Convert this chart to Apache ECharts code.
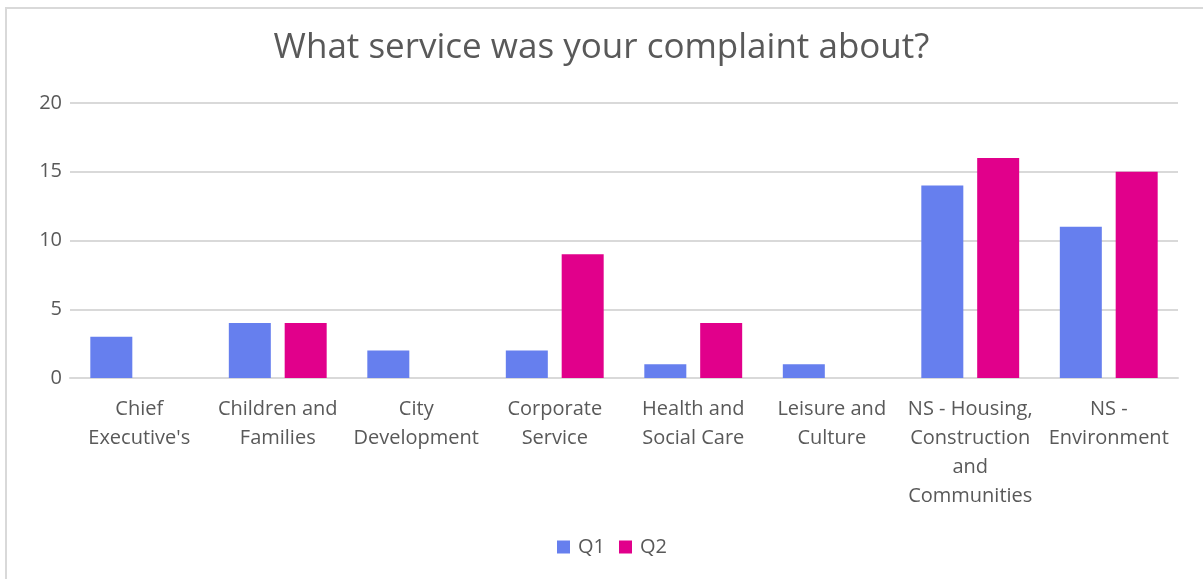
<!DOCTYPE html>
<html><head><meta charset="utf-8">
<script src="https://cdn.jsdelivr.net/npm/echarts@6/dist/echarts.min.js"></script>
<style>html,body{margin:0;padding:0;background:#fff}#c{width:1203px;height:579px}</style>
</head><body><div id="c"></div>
<script>
const categories = ["Chief\nExecutive's", "Children and\nFamilies", "City\nDevelopment", "Corporate\nService", "Health and\nSocial Care", "Leisure and\nCulture", "NS - Housing,\nConstruction\nand\nCommunities", "NS -\nEnvironment"];
const q1 = [3, 4, 2, 2, 1, 1, 14, 11];
const q2 = [0, 4, 0, 9, 4, 0, 16, 15];
const seriesNames = ["Q1", "Q2"];
const FONT = "Open Sans";
const chart = echarts.init(document.getElementById('c'));
chart.setOption({
  animation: false,
  textStyle: {fontFamily: FONT},
  title: {text: "What service was your complaint about?", left: 'center', top: 26,
    textStyle: {fontFamily: FONT, fontSize: 35, fontWeight: 'normal', color: '#595959'}},
  graphic: [{type: 'rect', shape: {x: 6, y: 8, width: 1220, height: 620}, style: {fill: 'none', stroke: '#d9d9d9', lineWidth: 2}, silent: true}],
  legend: {data: seriesNames, bottom: 17, left: 552, itemWidth: 13, itemHeight: 13, itemGap: 14, icon: 'rect',
    textStyle: {fontFamily: FONT, fontSize: 20, color: '#595959', padding: [0,0,0,3]}},
  grid: {left: 70, right: 25, top: 103, bottom: 201, containLabel: false},
  xAxis: {type: 'category', data: categories,
    axisLine: {lineStyle: {color: '#d9d9d9', width: 2}}, axisTick: {show: false},
    axisLabel: {fontFamily: FONT, fontSize: 20, color: '#595959', lineHeight: 29, margin: 17, interval: 0}},
  yAxis: {type: 'value', min: 0, max: 20, interval: 5,
    axisLine: {show: false}, axisTick: {show: false},
    splitLine: {lineStyle: {color: '#d9d9d9', width: 2}},
    axisLabel: {fontFamily: FONT, fontSize: 20, color: '#595959', margin: 8}},
  series: [
    {name: seriesNames[0], type: 'bar', data: q1, barWidth: 42, barGap: '33%', itemStyle: {color: '#667fee'}},
    {name: seriesNames[1], type: 'bar', data: q2, barWidth: 42, itemStyle: {color: '#e1008b'}}
  ]
});
</script></body></html>
